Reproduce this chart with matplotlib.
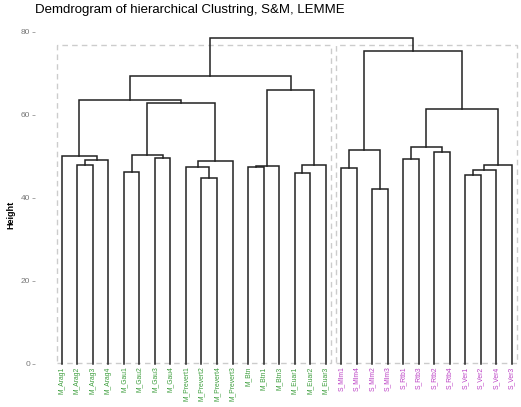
import matplotlib
matplotlib.use("Agg")
import matplotlib.pyplot as plt
from matplotlib.patches import Rectangle

plt.rcParams['font.family'] = ['Liberation Sans', 'DejaVu Sans']

# leaf order as in the dendrogram
leaves = ["M_Arag1", "M_Arag2", "M_Arag3", "M_Arag4", "M_Gau1", "M_Gau2",
          "M_Gau3", "M_Gau4", "M_Prevert1", "M_Prevert2", "M_Prevert4",
          "M_Prevert3", "M_Btn", "M_Btn1", "M_Btn3", "M_Euar1", "M_Euar2",
          "M_Euar3", "S_Mlm1", "S_Mlm4", "S_Mlm2", "S_Mlm3", "S_Rtb1",
          "S_Rtb3", "S_Rtb2", "S_Rtb4", "S_Ver1", "S_Ver2", "S_Ver4", "S_Ver3"]

# merges: (left, right, height); "mN" refers to the N-th merge
merges = [
    ("M_Arag2", "M_Arag3", 48.0),
    ("m0", "M_Arag4", 49.2),
    ("M_Arag1", "m1", 50.2),
    ("M_Gau1", "M_Gau2", 46.2),
    ("M_Gau3", "M_Gau4", 49.7),
    ("m3", "m4", 50.4),
    ("M_Prevert2", "M_Prevert4", 44.7),
    ("M_Prevert1", "m6", 47.4),
    ("m7", "M_Prevert3", 48.9),
    ("m5", "m8", 62.8),
    ("m2", "m9", 63.6),
    ("M_Btn", "M_Btn1", 47.4),
    ("m11", "M_Btn3", 47.6),
    ("M_Euar1", "M_Euar2", 46.0),
    ("m13", "M_Euar3", 47.9),
    ("m12", "m14", 65.9),
    ("m10", "m15", 69.4),
    ("S_Mlm1", "S_Mlm4", 47.3),
    ("S_Mlm2", "S_Mlm3", 42.2),
    ("m17", "m18", 51.6),
    ("S_Rtb1", "S_Rtb3", 49.3),
    ("S_Rtb2", "S_Rtb4", 51.0),
    ("m20", "m21", 52.3),
    ("S_Ver1", "S_Ver2", 45.4),
    ("m23", "S_Ver4", 46.6),
    ("m24", "S_Ver3", 47.9),
    ("m22", "m25", 61.4),
    ("m19", "m26", 75.4),
    ("m16", "m27", 78.5),
]

groups = ["M", "S"]
group_colors = {"M": "#3d9e3d", "S": "#bb3fc4"}
cut_height = 76.9

fig = plt.figure(figsize=(5.21, 4.07), dpi=100)
ax = fig.add_axes([35 / 521, 4 / 407, 486 / 521, 377 / 407])

# x position and height of every node
pos = {name: (i, 0.0) for i, name in enumerate(leaves)}
for k, (a, b, h) in enumerate(merges):
    xa, ha = pos[a]
    xb, hb = pos[b]
    ax.plot([xa, xa, xb, xb], [ha, h, h, hb], color="#222222", lw=1.1,
            solid_joinstyle="miter", zorder=3)
    pos["m%d" % k] = ((xa + xb) / 2, h)

# leaf labels
for i, name in enumerate(leaves):
    ax.text(i, -0.6, name, rotation=90, ha="center", va="top", fontsize=4.9,
            color=group_colors[name.split("_")[0]])

# dashed boxes around the two clusters
for g in groups:
    idx = [i for i, name in enumerate(leaves) if name.startswith(g + "_")]
    x0, x1 = min(idx) - 0.3, max(idx) + 0.33
    ax.add_patch(Rectangle((x0, 0.3), x1 - x0, cut_height - 0.3, fill=False,
                           ec="#cccccc", lw=1.0, ls=(0, (4, 3)), zorder=2))

ax.set_xlim(-1.74, 29.61)
ax.set_ylim(-9.4, 81.4)
ax.set_xticks([])
ax.set_yticks([0, 20, 40, 60, 80])
ax.tick_params(axis="y", colors="#999999", labelcolor="#777777",
               labelsize=6, length=2.5, width=0.6, pad=1)
for s in ax.spines.values():
    s.set_visible(False)
ax.set_ylabel("Height", fontsize=6.5, fontweight="bold", labelpad=4)

fig.text(35 / 521, 1 - 10 / 407, "Demdrogram of hierarchical Clustring, S&M, LEMME",
         fontsize=9.5, ha="left", va="center")

fig.savefig("out.png", dpi=100)
